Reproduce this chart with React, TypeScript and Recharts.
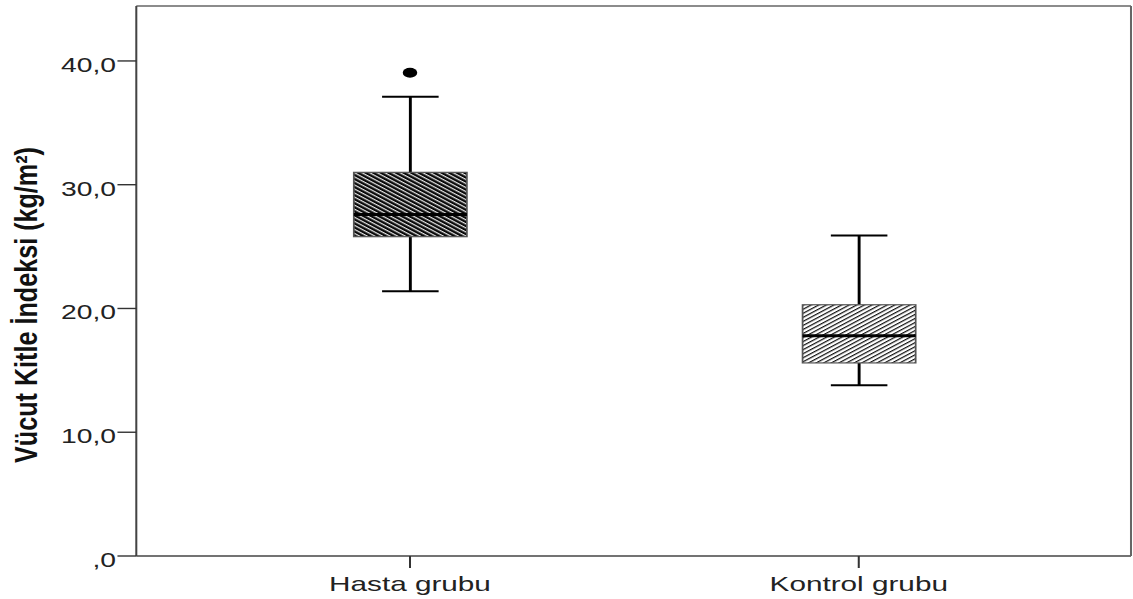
import { ComposedChart, Bar, Scatter, XAxis, YAxis } from 'recharts';

// box plot summary
const categories = ['Hasta grubu', 'Kontrol grubu'];
const whiskerLow = [21.4, 13.8];
const quartile1 = [25.8, 15.6];
const medians = [27.6, 17.8];
const quartile3 = [31.0, 20.3];
const whiskerHigh = [37.1, 25.9];
const outliers: (number | null)[] = [39.05, null];

const yTicks = [0, 10, 20, 30, 40];
const yMax = 44.44;
const yTitle = 'Vücut Kitle İndeksi (kg/m²)';

const data = categories.map((name, i) => ({
  name,
  min: whiskerLow[i],
  q1: quartile1[i],
  median: medians[i],
  q3: quartile3[i],
  max: whiskerHigh[i],
  range: [whiskerLow[i], whiskerHigh[i]],
  outlier: outliers[i],
}));

// the source picture is stretched horizontally, so the whole chart is too
const STRETCH = 1.45;
const FONT = '"Liberation Sans", Arial, sans-serif';
const boxFills = ['url(#hatchDark)', 'url(#hatchLight)'];

const fmtTick = (v: number) => (v === 0 ? ',0' : v.toFixed(1).replace('.', ','));

const BoxShape = (props: any) => {
  const { x, y, width, height, payload, index } = props;
  if (!payload) return null;
  const { min, q1, median, q3, max } = payload;
  const top = Math.min(y, y + height);
  const k = Math.abs(height) / (max - min);
  const py = (v: number) => top + (max - v) * k;
  const cx = x + width / 2;
  const half = width / 4;
  return (
    <g>
      <line x1={cx} x2={cx} y1={py(max)} y2={py(q3)} stroke="#000" strokeWidth={2} />
      <line x1={cx} x2={cx} y1={py(q1)} y2={py(min)} stroke="#000" strokeWidth={2} />
      <line x1={cx - half} x2={cx + half} y1={py(max)} y2={py(max)} stroke="#000" strokeWidth={2} />
      <line x1={cx - half} x2={cx + half} y1={py(min)} y2={py(min)} stroke="#000" strokeWidth={2} />
      <rect
        x={x}
        y={py(q3)}
        width={width}
        height={py(q1) - py(q3)}
        fill={boxFills[index % boxFills.length]}
        stroke="#555"
        strokeWidth={1.2}
      />
      <line x1={x} x2={x + width} y1={py(median)} y2={py(median)} stroke="#000" strokeWidth={3} />
    </g>
  );
};

const OutlierDot = (props: any) => {
  const { cx, cy, payload } = props;
  if (!payload || payload.outlier == null || cy == null || isNaN(cy)) return <g />;
  return <circle cx={cx} cy={cy} r={5} fill="#000" />;
};

const YTick = (props: any) => {
  const { x, y, payload } = props;
  return (
    <text x={x} y={y + 4} dy="0.36em" textAnchor="end" fontSize={19.5} fontFamily={FONT} fill="#222">
      {fmtTick(payload.value)}
    </text>
  );
};

const XTick = (props: any) => {
  const { x, y, payload } = props;
  return (
    <text x={x} y={y} dy="0.71em" textAnchor="middle" fontSize={20.5} fontFamily={FONT} fill="#222">
      {payload.value}
    </text>
  );
};

const YTitle = (props: any) => {
  const vb = props.viewBox || { x: 0, y: 6, width: 94, height: 550 };
  const cx = vb.x + 18.6;
  const cy = vb.y + vb.height / 2 + 24;
  return (
    <text
      x={cx}
      y={cy}
      transform={`rotate(-90, ${cx}, ${cy})`}
      textAnchor="middle"
      dominantBaseline="central"
      fontSize={21}
      fontWeight="bold"
      fontFamily={FONT}
      fill="#111"
      textLength={316}
      lengthAdjust="spacingAndGlyphs"
    >
      {yTitle}
    </text>
  );
};

export default function App() {
  return (
    <div style={{ width: 1133, height: 599, overflow: 'hidden', position: 'relative', background: '#fff' }}>
      <style>{'body{margin:0}'}</style>
      <svg width={0} height={0} style={{ position: 'absolute' }}>
        <defs>
          <pattern id="hatchDark" patternUnits="userSpaceOnUse" width={8} height={3.2} patternTransform="rotate(37.6)">
            <rect width={8} height={3.2} fill="#0a0a0a" />
            <rect width={8} height={1.1} fill="#e6e6e6" />
          </pattern>
          <pattern id="hatchLight" patternUnits="userSpaceOnUse" width={8} height={3.2} patternTransform="rotate(-37.6)">
            <rect width={8} height={3.2} fill="#fff" />
            <rect width={8} height={1.1} fill="#111" />
          </pattern>
        </defs>
      </svg>
      <div style={{ width: 782, height: 599, transform: `scaleX(${STRETCH})`, transformOrigin: '0 0' }}>
        <ComposedChart width={782} height={599} data={data} margin={{ top: 5, right: 1, bottom: 0, left: 0 }}>
          <XAxis
            dataKey="name"
            type="category"
            height={43}
            padding={{ left: 34, right: 33 }}
            axisLine={{ stroke: '#444', strokeWidth: 1.4 }}
            tickLine={{ stroke: '#333', strokeWidth: 1.4 }}
            tickSize={12}
            tickMargin={8}
            tick={<XTick />}
          />
          {/* frame: top and right edges of the plot box */}
          <XAxis
            xAxisId="top"
            dataKey="name"
            type="category"
            orientation="top"
            height={1}
            padding={{ left: 34, right: 33 }}
            tick={false}
            tickLine={false}
            axisLine={{ stroke: '#666', strokeWidth: 1.4 }}
          />
          <YAxis
            type="number"
            domain={[0, yMax]}
            ticks={yTicks}
            width={94}
            axisLine={{ stroke: '#444', strokeWidth: 1.4 }}
            tickLine={{ stroke: '#333', strokeWidth: 1.4 }}
            tickSize={13}
            tickMargin={1}
            tick={<YTick />}
            label={<YTitle />}
            allowDataOverflow
          />
          <YAxis
            yAxisId="right"
            orientation="right"
            type="number"
            domain={[0, yMax]}
            width={1}
            tick={false}
            tickLine={false}
            axisLine={{ stroke: '#666', strokeWidth: 1.4 }}
          />
          <Bar dataKey="range" barSize={78} shape={<BoxShape />} isAnimationActive={false} />
          <Scatter dataKey="outlier" shape={<OutlierDot />} isAnimationActive={false} />
        </ComposedChart>
      </div>
    </div>
  );
}
